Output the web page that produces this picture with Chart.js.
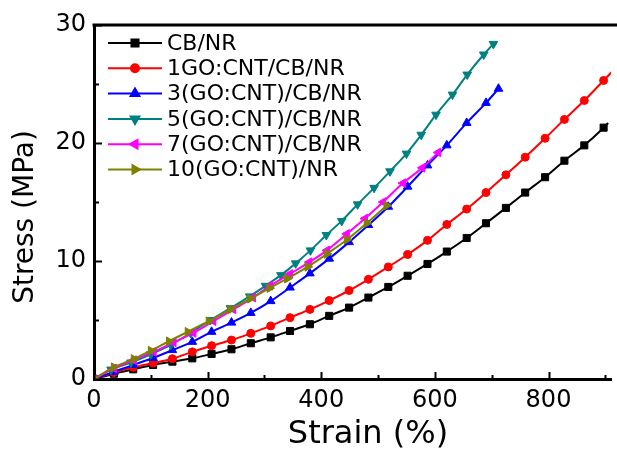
<!DOCTYPE html>
<html>
<head>
<meta charset="utf-8">
<script src="https://cdn.jsdelivr.net/npm/chart.js@4/dist/chart.umd.min.js"></script>
<style>
  html, body { margin: 0; padding: 0; background: #fff; }
  canvas { display: block; }
</style>
</head>
<body>
<canvas id="chart" width="617" height="450"></canvas>
<script>
// values (strain in %, stress in MPa)
// the last point of CB/NR and 1GO series is where the curve leaves the frame (no marker)
const cbStrain = [0, 35, 69, 104, 138, 173, 207, 242, 276, 311, 345, 380, 414, 449, 483, 518, 552, 587, 621, 656, 690, 725, 759, 794, 828, 863, 897, 905];
const cbStress = [0, 0.45, 0.82, 1.19, 1.47, 1.75, 2.12, 2.52, 3.03, 3.53, 4.07, 4.64, 5.35, 6.05, 6.9, 7.8, 8.75, 9.75, 10.8, 11.95, 13.2, 14.5, 15.8, 17.1, 18.5, 19.8, 21.3, 21.7];

const go1Strain = [0, 35, 69, 104, 138, 173, 207, 242, 276, 311, 345, 380, 414, 449, 483, 518, 552, 587, 621, 656, 690, 725, 759, 794, 828, 863, 897, 915];
const go1Stress = [0, 0.55, 1.0, 1.35, 1.72, 2.3, 2.82, 3.3, 3.87, 4.5, 5.2, 5.9, 6.65, 7.5, 8.45, 9.5, 10.55, 11.75, 13.1, 14.4, 15.8, 17.3, 18.8, 20.4, 22.0, 23.6, 25.3, 26.2];

const go3Strain = [0, 35, 69, 104, 138, 173, 207, 242, 276, 311, 345, 380, 414, 449, 483, 518, 552, 587, 621, 656, 690, 712];
const go3Stress = [0, 0.6, 1.2, 1.78, 2.45, 3.15, 4.0, 4.78, 5.6, 6.6, 7.75, 8.95, 10.2, 11.6, 13.05, 14.6, 16.3, 18.1, 19.8, 21.7, 23.4, 24.6];

const go5Strain = [0, 30, 65, 100, 135, 170, 205, 240, 274, 302, 329, 355, 381, 409, 436, 464, 493, 521, 550, 576, 602, 631, 657, 686, 703];
const go5Stress = [0, 0.8, 1.4, 2.1, 2.9, 3.9, 5.0, 6.0, 7.0, 7.9, 8.8, 9.8, 10.9, 12.2, 13.4, 14.8, 16.2, 17.6, 19.1, 20.7, 22.4, 24.1, 25.8, 27.5, 28.4];

const go7Strain = [0, 35, 70, 105, 140, 175, 210, 245, 280, 310, 345, 379, 410, 445, 477, 509, 544, 578, 606];
const go7Stress = [0, 0.9, 1.6, 2.3, 3.1, 3.9, 4.9, 5.9, 6.9, 7.9, 8.9, 9.9, 10.9, 12.3, 13.6, 15.0, 16.6, 17.9, 19.2];

const go10Strain = [0, 35, 70, 100, 132, 165, 202, 240, 275, 309, 340, 376, 410, 445, 480, 515];
const go10Stress = [0, 1.0, 1.7, 2.4, 3.2, 4.0, 4.9, 5.9, 6.8, 7.7, 8.5, 9.5, 10.6, 11.8, 13.2, 14.7];

const seriesLabels = ['CB/NR', '1GO:CNT/CB/NR', '3(GO:CNT)/CB/NR', '5(GO:CNT)/CB/NR', '7(GO:CNT)/CB/NR', '10(GO:CNT)/NR'];
const xTicks = [0, 200, 400, 600, 800];
const yTicks = [0, 10, 20, 30];
const xMax = 910;
const yMax = 30;

const FONT = 'DejaVu Sans';

function pts(xs, ys) {
    return xs.map((x, i) => ({x: x, y: ys[i]}));
}

function series(label, xs, ys, color, style, rot, r, order, openEnd) {
    const last = xs.length - 1;
    return {
        label,
        data: pts(xs, ys),
        borderColor: color,
        backgroundColor: color,
        borderWidth: 2,
        pointStyle: style,
        pointRotation: rot,
        markerSize: r,
        pointRadius: c => (openEnd && c.dataIndex === last) ? 0 : r,
        pointBorderWidth: 1,
        pointBackgroundColor: color,
        pointBorderColor: color,
        cubicInterpolationMode: 'monotone',
        order
    };
}

// inward ticks, top frame line, legend and axis titles
const decorations = {
    id: 'decorations',
    afterDraw(chart) {
        const ctx = chart.ctx;
        const a = chart.chartArea;
        const sx = chart.scales.x, sy = chart.scales.y;
        ctx.save();
        ctx.strokeStyle = '#000';
        ctx.lineWidth = 3;
        ctx.beginPath();
        ctx.moveTo(a.left - 1.5, a.top);
        ctx.lineTo(chart.width, a.top);
        ctx.stroke();

        ctx.lineWidth = 2;
        for (let v = 0; v <= xMax; v += 100) {
            const px = Math.round(sx.getPixelForValue(v)) + 0.5;
            const len = v % 200 === 0 ? 7 : 4;
            ctx.beginPath();
            ctx.moveTo(px, a.bottom);
            ctx.lineTo(px, a.bottom - len);
            ctx.stroke();
        }
        for (let v = 0; v <= yMax; v += 5) {
            const py = Math.round(sy.getPixelForValue(v)) + 0.5;
            const len = v % 10 === 0 ? 8 : 5;
            ctx.beginPath();
            ctx.moveTo(a.left, py);
            ctx.lineTo(a.left + len, py);
            ctx.stroke();
        }

        // legend
        ctx.font = '22px "' + FONT + '"';
        ctx.textBaseline = 'middle';
        ctx.textAlign = 'left';
        chart.data.datasets.forEach((ds, i) => {
            const yy = 43 + i * 25.3;
            ctx.strokeStyle = ds.borderColor;
            ctx.fillStyle = ds.borderColor;
            ctx.lineWidth = 2;
            ctx.beginPath();
            ctx.moveTo(108, yy);
            ctx.lineTo(162, yy);
            ctx.stroke();
            Chart.helpers.drawPoint(ctx, {
                pointStyle: ds.pointStyle,
                rotation: ds.pointRotation,
                radius: ds.markerSize,
                borderWidth: 1
            }, 135, yy);
            ctx.fillStyle = '#000';
            ctx.fillText(ds.label, 167, yy + 1);
        });

        // axis titles
        ctx.fillStyle = '#000';
        ctx.font = '32px "' + FONT + '"';
        ctx.textAlign = 'center';
        ctx.textBaseline = 'alphabetic';
        ctx.fillText('Strain (%)', 368, 443);
        ctx.translate(33, 217);
        ctx.rotate(-Math.PI / 2);
        ctx.font = '28px "' + FONT + '"';
        ctx.fillText('Stress (MPa)', 0, 0);
        ctx.restore();
    }
};

new Chart(document.getElementById('chart'), {
    type: 'line',
    data: {
        datasets: [
            series(seriesLabels[0], cbStrain, cbStress, '#000000', 'rect', 0, 5, 6, true),
            series(seriesLabels[1], go1Strain, go1Stress, '#ff0000', 'circle', 0, 4, 5, true),
            series(seriesLabels[2], go3Strain, go3Stress, '#0000ff', 'triangle', 0, 5, 4, false),
            series(seriesLabels[3], go5Strain, go5Stress, '#008080', 'triangle', 180, 5, 3, false),
            series(seriesLabels[4], go7Strain, go7Stress, '#ff00ff', 'triangle', 270, 5, 2, false),
            series(seriesLabels[5], go10Strain, go10Stress, '#808000', 'triangle', 90, 5, 1, false)
        ]
    },
    options: {
        responsive: false,
        animation: false,
        layout: {padding: {top: 25, right: 0, left: 0, bottom: 0}},
        plugins: {legend: {display: false}, tooltip: {enabled: false}},
        scales: {
            x: {
                type: 'linear',
                min: 0,
                max: xMax,
                grid: {display: false, drawTicks: false},
                border: {display: true, width: 3, color: '#000'},
                afterBuildTicks: s => { s.ticks = xTicks.map(v => ({value: v})); },
                afterFit: s => { s.height = 71; s.paddingLeft = 0; s.paddingRight = 0; },
                ticks: {color: '#000', padding: 7, maxRotation: 0, font: {family: FONT, size: 24}}
            },
            y: {
                min: 0,
                max: yMax,
                grid: {display: false, drawTicks: false},
                border: {display: true, width: 3, color: '#000'},
                afterBuildTicks: s => { s.ticks = yTicks.map(v => ({value: v})); },
                afterFit: s => { s.width = 94; s.paddingTop = 0; s.paddingBottom = 0; },
                ticks: {color: '#000', padding: 8, font: {family: FONT, size: 24}}
            }
        }
    },
    plugins: [decorations]
});
</script>
</body>
</html>
